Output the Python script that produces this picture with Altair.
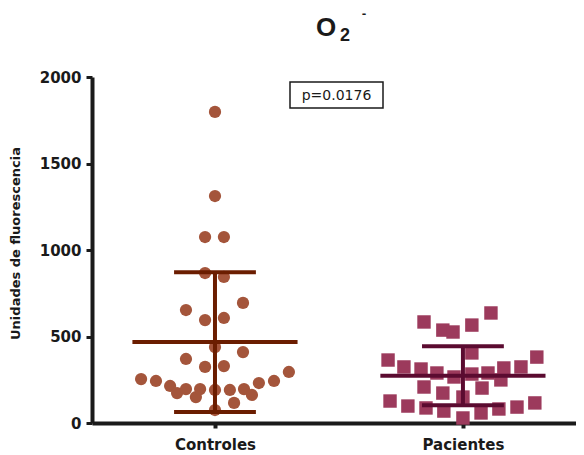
import altair as alt
import pandas as pd

# ---- data ----
groups = ["Controles", "Pacientes"]
group_pos = [1, 2]

controles_vals = [1798, 1312, 1075, 1075, 867, 844, 653, 694, 595, 607, 439, 370, 410,
                  324, 329, 254, 243, 214, 173, 196, 150, 196, 191, 191, 196, 162, 231,
                  243, 295, 116, 75]
controles_jit = [0, 0, -0.04, 0.036, -0.04, 0.036, -0.117, 0.113, -0.04, 0.036, 0, -0.117,
                 0.113, -0.04, 0.036, -0.298, -0.238, -0.181, -0.153, -0.117, -0.077, -0.06,
                 0, 0.06, 0.117, 0.149, 0.177, 0.238, 0.298, 0.077, 0]

pacientes_vals = [584, 537, 526, 566, 636, 364, 324, 312, 289, 266, 405, 283, 289, 318,
                  324, 381, 208, 173, 150, 202, 249, 127, 98, 87, 69, 29, 58, 81, 92, 116]
pacientes_jit = [-0.157, -0.081, -0.04, 0.036, 0.113, -0.302, -0.238, -0.169, -0.105, -0.036,
                 0.036, 0.036, 0.101, 0.165, 0.234, 0.298, -0.157, -0.081, 0, 0.077, 0.153,
                 -0.294, -0.222, -0.149, -0.077, 0, 0.073, 0.145, 0.218, 0.29]

means = [468, 273]
sds = [404, 171]

point_colors = ["#A4553B", "#9C3A5C"]
bar_colors = ["#6B1D00", "#5B0B30"]
p_text = "p=0.0176"

# ---- tables ----
pts = pd.DataFrame({
    "grupo": [groups[0]] * len(controles_vals) + [groups[1]] * len(pacientes_vals),
    "valor": controles_vals + pacientes_vals,
    "x": [group_pos[0] + j for j in controles_jit] + [group_pos[1] + j for j in pacientes_jit],
})
stats = pd.DataFrame({"grupo": groups, "pos": group_pos, "media": means, "sd": sds})

FONT = "DejaVu Sans"
TFONT = "Liberation Sans"
INK = "#1a1a1a"
xscale = alt.Scale(domain=[0.504, 2.456], nice=False, zero=False)
yscale = alt.Scale(domain=[0, 2000], nice=False)

xaxis = alt.Axis(values=[1, 2], labelExpr="datum.value == 1 ? 'Controles' : 'Pacientes'",
                 title=None, grid=False, labelFont=FONT, labelFontSize=15,
                 labelFontWeight="bold", labelColor=INK, labelPadding=9,
                 domainColor=INK, domainWidth=4, tickColor=INK,
                 tickWidth=4, tickSize=5)
yaxis = alt.Axis(values=[0, 500, 1000, 1500, 2000], format="d",
                 title="Unidades de fluorescencia",
                 grid=False, labelFont=FONT, labelFontSize=15, labelFontWeight="bold",
                 labelColor=INK, labelPadding=5, domainColor=INK,
                 domainWidth=4, tickColor=INK, tickWidth=3, tickSize=6,
                 titleFont=FONT, titleFontSize=13, titleFontWeight="bold",
                 titleColor=INK, titleX=-70, titleY=166)

points_c = alt.Chart(pts).transform_filter(alt.datum.grupo == groups[0]).mark_point(
    filled=True, opacity=1, size=150, shape="circle", color=point_colors[0]
).encode(x=alt.X("x:Q", scale=xscale, axis=xaxis), y=alt.Y("valor:Q", scale=yscale, axis=yaxis))

points_p = alt.Chart(pts).transform_filter(alt.datum.grupo == groups[1]).mark_point(
    filled=True, opacity=1, size=180, shape="square", color=point_colors[1]
).encode(x=alt.X("x:Q", scale=xscale), y=alt.Y("valor:Q", scale=yscale))

color_bar = alt.Color("grupo:N", scale=alt.Scale(domain=groups, range=bar_colors), legend=None)
base = alt.Chart(stats).transform_calculate(
    lo="datum.media - datum.sd", hi="datum.media + datum.sd",
    ml="datum.pos - 0.333", mr="datum.pos + 0.333",
    cl="datum.pos - 0.165", cr="datum.pos + 0.165",
)

vert = base.mark_rule(strokeWidth=4).encode(
    x=alt.X("pos:Q", scale=xscale), y=alt.Y("lo:Q", scale=yscale), y2="hi:Q", color=color_bar)
mean_line = base.mark_rule(strokeWidth=4).encode(
    x=alt.X("ml:Q", scale=xscale), x2="mr:Q", y=alt.Y("media:Q", scale=yscale), color=color_bar)
cap_hi = base.mark_rule(strokeWidth=4).encode(
    x=alt.X("cl:Q", scale=xscale), x2="cr:Q", y=alt.Y("hi:Q", scale=yscale), color=color_bar)
cap_lo = base.mark_rule(strokeWidth=4).encode(
    x=alt.X("cl:Q", scale=xscale), x2="cr:Q", y=alt.Y("lo:Q", scale=yscale), color=color_bar)

ann = pd.DataFrame({"t": [p_text]})
pbox = alt.Chart(ann).mark_rect(fill="white", stroke=INK, strokeWidth=1.5).encode(
    x=alt.value(198), x2=alt.value(291), y=alt.value(5), y2=alt.value(31))
ptext = alt.Chart(ann).mark_text(font=FONT, fontSize=14, color=INK, align="center",
                                 baseline="middle").encode(
    x=alt.value(244.5), y=alt.value(18.5), text="t:N")

ttl = pd.DataFrame({"o": ["O"], "s": ["2"], "m": ["-"]})
t_o = alt.Chart(ttl).mark_text(font=TFONT, fontSize=26, fontWeight="bold", color=INK,
                               align="center", baseline="alphabetic").encode(
    x=alt.value(234), y=alt.value(-41), text="o:N")
t_s = alt.Chart(ttl).mark_text(font=TFONT, fontSize=18, fontWeight="bold", color=INK,
                               align="center", baseline="alphabetic").encode(
    x=alt.value(253), y=alt.value(-36), text="s:N")
t_m = alt.Chart(ttl).mark_text(font=FONT, fontSize=11, fontWeight="bold", color=INK,
                               align="center", baseline="middle").encode(
    x=alt.value(272), y=alt.value(-63), text="m:N")

chart = alt.layer(points_c, points_p, vert, mean_line, cap_hi, cap_lo, pbox, ptext,
                  t_o, t_s, t_m).properties(
    width=484, height=346, autosize=alt.AutoSizeParams(type="none"),
    padding={"left": 84, "top": 69, "right": 0, "bottom": 31},
    background="white",
).configure_view(stroke=None)

chart.save("out.html", embed_options={"renderer": "svg", "actions": False})
